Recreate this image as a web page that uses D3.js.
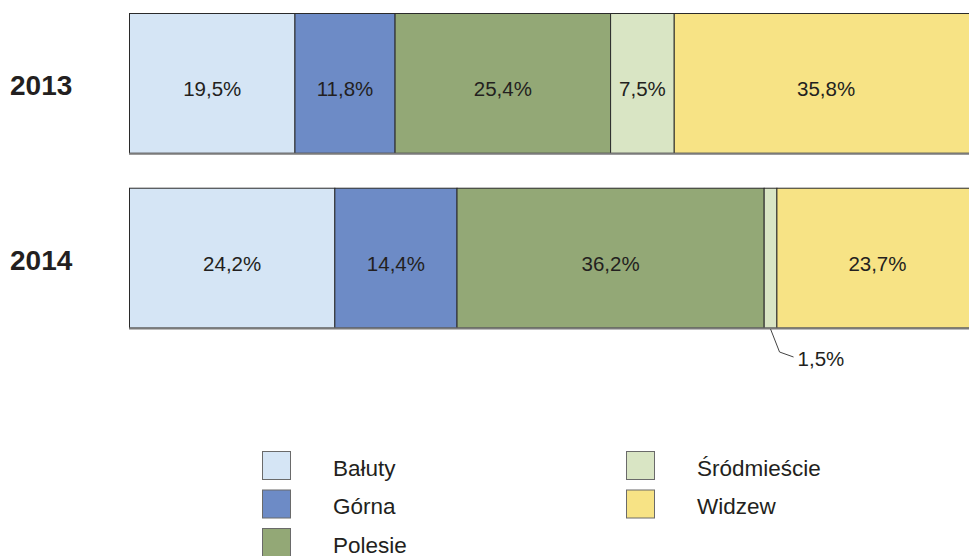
<!DOCTYPE html>
<html>
<head>
<meta charset="utf-8">
<script src="https://cdn.jsdelivr.net/npm/d3@7"></script>
<style>
  html, body { margin: 0; padding: 0; background: #fff; }
  svg { display: block; font-family: "Liberation Sans", Arial, sans-serif; }
</style>
</head>
<body>
<svg id="chart" width="969" height="556"></svg>
<script>
const years = ["2013", "2014"];
const districts = ["Bałuty", "Górna", "Polesie", "Śródmieście", "Widzew"];
const colors = ["#d5e5f5", "#6d8bc6", "#93a876", "#d9e5c4", "#f7e385"];
const values2013 = [19.5, 11.8, 25.4, 7.5, 35.8];
const values2014 = [24.2, 14.4, 36.2, 1.5, 23.7];
const seriesByYear = { "2013": values2013, "2014": values2014 };

const svg = d3.select("#chart");
const x = d3.scaleLinear().domain([0, 100]).range([129.5, 978]);
const y = d3.scaleBand().domain(years).range([13.5, 328]).paddingInner(0.2);
const color = d3.scaleOrdinal().domain(districts).range(colors);
const fmt = v => d3.format(".1f")(v).replace(".", ",") + "%";

years.forEach(yr => {
  const vals = seriesByYear[yr];
  let acc = 0;
  const segs = vals.map((v, i) => { const s = { name: districts[i], v, x0: acc, x1: acc + v }; acc += v; return s; });
  const g = svg.append("g");
  const top = y(yr), bh = y.bandwidth(), bot = top + bh, cy = top + bh / 2;

  g.selectAll("rect").data(segs).join("rect")
    .attr("x", d => x(d.x0)).attr("y", top)
    .attr("width", d => x(d.x1) - x(d.x0)).attr("height", bh)
    .attr("fill", d => color(d.name))
    .attr("stroke", "#2a2a2a").attr("stroke-width", 1);

  // bottom gray edge
  g.append("line").attr("x1", x(0) - 0.5).attr("x2", x(100)).attr("y1", bot + 0.5).attr("y2", bot + 0.5)
    .attr("stroke", "#7a7a7a").attr("stroke-width", 2);

  // year label
  svg.append("text").attr("x", 10).attr("y", cy + 12)
    .attr("font-size", 28).attr("font-weight", "bold").attr("fill", "#231f20").text(yr);

  segs.forEach(d => {
    const w = x(d.x1) - x(d.x0);
    const cx = (x(d.x0) + x(d.x1)) / 2;
    if (w > 40) {
      g.append("text").attr("x", cx).attr("y", cy + 13).attr("text-anchor", "middle")
        .attr("font-size", 20.5).attr("fill", "#231f20").text(fmt(d.v));
    } else {
      g.append("path")
        .attr("d", d3.line()([[cx, bot + 1], [cx + 9, bot + 24], [cx + 23, bot + 29]]))
        .attr("fill", "none").attr("stroke", "#444").attr("stroke-width", 1);
      g.append("text").attr("x", cx + 27).attr("y", bot + 38)
        .attr("font-size", 20.5).attr("fill", "#231f20").text(fmt(d.v));
    }
  });
});

// legend
const legend = svg.append("g");
districts.forEach((name, i) => {
  const col = Math.floor(i / 3), row = i % 3;
  const lx = col === 0 ? 262 : 626;
  const ly = 451.5 + row * 38.5;
  legend.append("rect").attr("x", lx + 0.5).attr("y", ly).attr("width", 28).attr("height", 28)
    .attr("fill", color(name)).attr("stroke", "#6a6a6a").attr("stroke-width", 1);
  legend.append("text").attr("x", lx + 71).attr("y", ly + 24)
    .attr("font-size", 22.5).attr("fill", "#231f20").text(name);
});
</script>
</body>
</html>
